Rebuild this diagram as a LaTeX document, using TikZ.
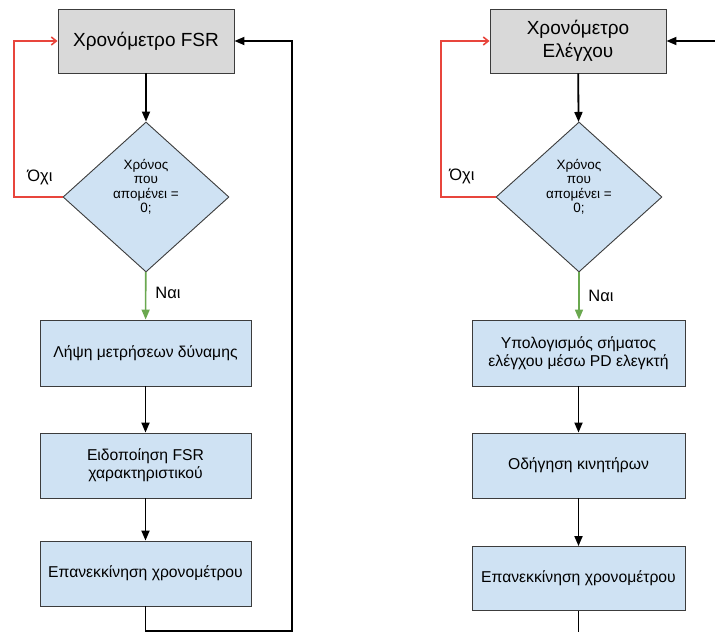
\documentclass[tikz,border=0pt]{standalone}
\usepackage{fontspec}
\setmainfont{Liberation Sans}
\usepackage{tikz}
\usetikzlibrary{positioning,arrows.meta,shapes.geometric}
\definecolor{boxblue}{HTML}{CFE2F3}
\definecolor{boxgray}{HTML}{D9D9D9}
\definecolor{nored}{HTML}{E8453C}
\definecolor{yesgreen}{HTML}{6AA84F}
\definecolor{edge}{HTML}{3C3C3C}

\begin{document}
\begin{tikzpicture}[x=1pt,y=-1pt,
  every node/.style={font=\fontsize{15.7}{18}\selectfont},
  timer/.style={draw=edge,line width=0.9pt,fill=boxgray,minimum width=176pt,minimum height=64pt,inner sep=0pt,align=center,font=\fontsize{19}{22.5}\selectfont},
  task/.style={draw=edge,line width=0.9pt,fill=boxblue,minimum width=211pt,minimum height=65pt,inner sep=0pt,align=center},
  check/.style={diamond,draw=edge,line width=0.9pt,fill=boxblue,minimum width=166pt,minimum height=150pt,inner sep=0pt,align=center,font=\fontsize{13.5}{14.5}\selectfont,text depth=22pt},
  flow/.style={-{Triangle[length=10pt,width=8pt]},line width=1.8pt},
  no/.style={-{Straight Barb[length=5pt,width=8pt]},nored,line width=1.6pt},
  yes/.style={-{Triangle[length=10pt,width=8pt]},yesgreen,line width=1.6pt},
  lbl/.style={font=\fontsize{16.5}{19}\selectfont}]
 \useasboundingbox (0,0) rectangle (715,632);
 % FSR timer
 \node[timer] (fsr) at (146,41) {Χρονόμετρο FSR};
 \node[check] (wait1) at (146,197) {Χρόνος\\που\\απομένει =\\0;};
 \node[task,minimum height=66pt] (meas) at (145.5,353) {Λήψη μετρήσεων δύναμης};
 \node[task] (note) at (145.5,465.5) {Ειδοποίηση FSR\\χαρακτηριστικού};
 \node[task] (rst1) at (145.5,573.5) {Επανεκκίνηση χρονομέτρου};
 \node[lbl] (no1) at (40,177) {Όχι};
 \node[lbl] (yes1) at (168,293) {Ναι};
 \coordinate (nl1) at (14,197);
 \coordinate (lp1) at (292,631);
 \draw[flow] (fsr) -- (wait1);
 \draw[no] (wait1.west) -- (nl1) |- (fsr.west);
 \draw[yes] (wait1) -- (meas);
 \draw[flow] (meas) -- (note);
 \draw[flow] (note) -- (rst1);
 \draw[flow] (rst1.south) |- (lp1) |- (fsr.east);
 % control timer
 \node[timer] (ctl) at (578,41) {Χρονόμετρο\\Ελέγχου};
 \node[check] (wait2) at (579,197) {Χρόνος\\που\\απομένει =\\0;};
 \node[task,minimum width=213pt,minimum height=66pt] (pd) at (578.5,353) {Υπολογισμός σήματος\\ελέγχου μέσω PD ελεγκτή};
 \node[task,minimum width=213pt] (mot) at (578.5,465.5) {Οδήγηση κινητήρων};
 \node[task,minimum width=213pt,minimum height=64pt] (rst2) at (578.5,578.5) {Επανεκκίνηση χρονομέτρου};
 \node[lbl] (no2) at (462,176) {Όχι};
 \node[lbl] (yes2) at (601,296) {Ναι};
 \coordinate (nl2) at (441,197);
 \coordinate (in2) at (715,41);
 \coordinate (out2) at (578.5,632);
 \draw[flow] (ctl) -- (wait2);
 \draw[no] (wait2.west) -- (nl2) |- (ctl.west);
 \draw[yes] (wait2.south) -- (wait2.south |- pd.north);
 \draw[flow] (pd) -- (mot);
 \draw[flow] (mot) -- (rst2);
 \draw[flow] (in2) -- (ctl.east);
 \draw[line width=1.8pt] (rst2.south) -- (out2);
\end{tikzpicture}
\end{document}
